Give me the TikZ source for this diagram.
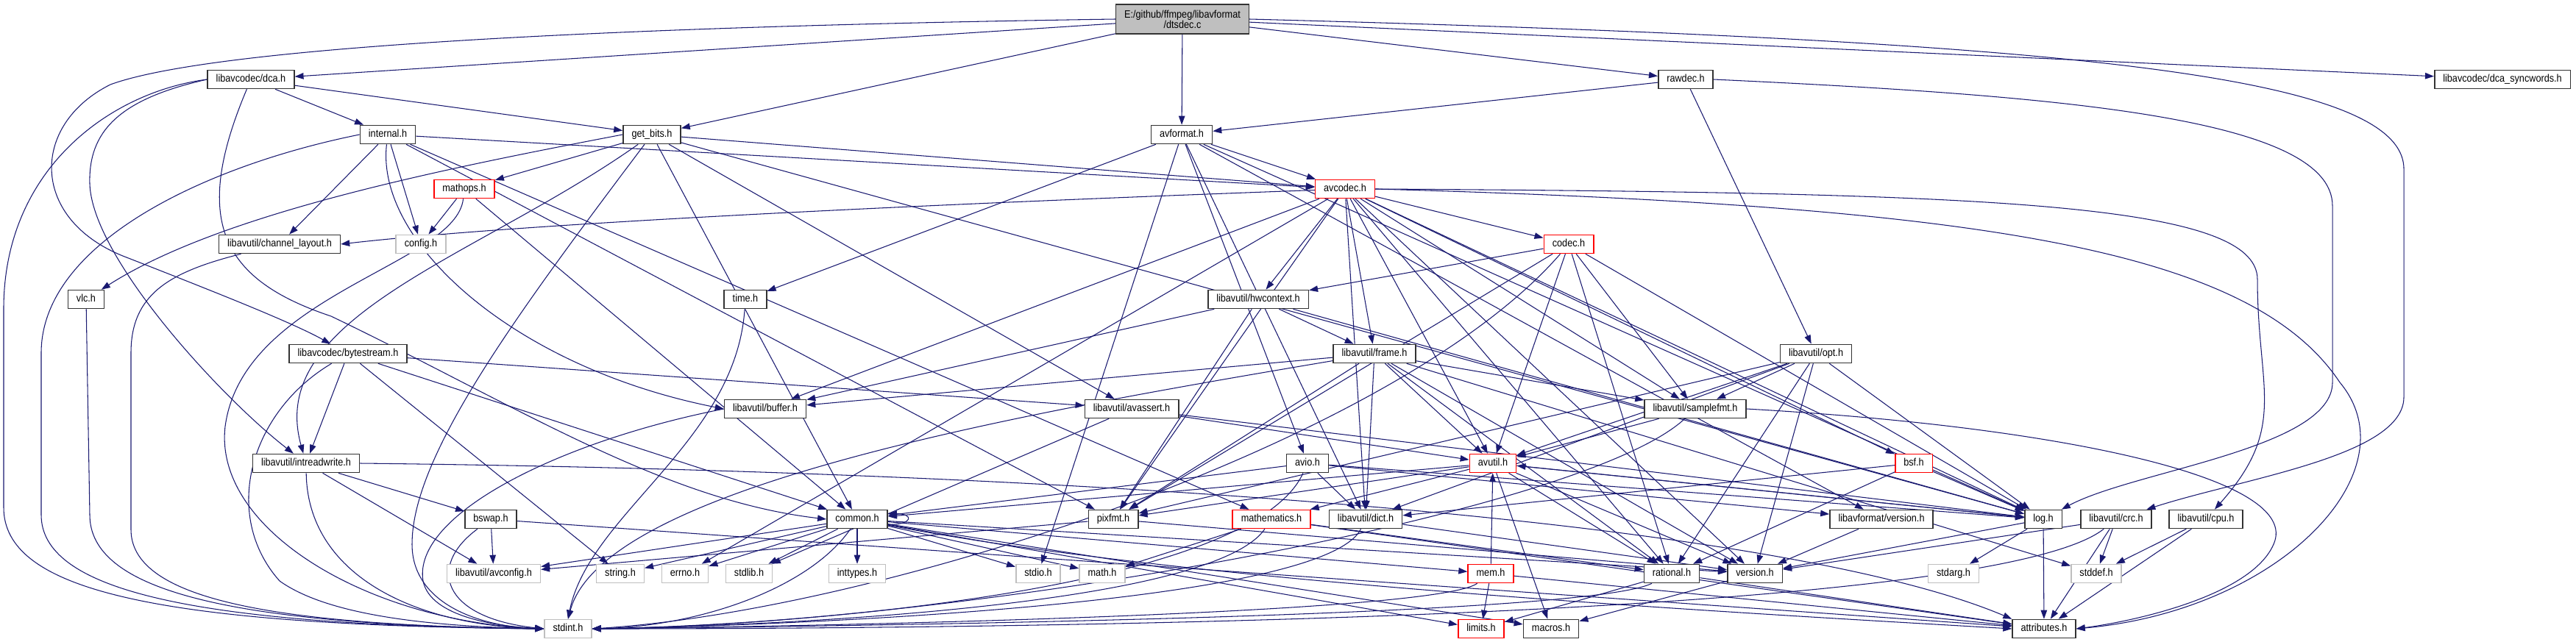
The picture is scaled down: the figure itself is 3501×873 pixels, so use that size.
\documentclass[tikz,border=0pt]{standalone}
\usepackage{fontspec}
\setmainfont{Liberation Sans}[FakeStretch=0.88]
\usetikzlibrary{arrows.meta}

\definecolor{edgeblue}{RGB}{25,25,112}
\definecolor{sysgray}{RGB}{191,191,191}

\pgfdeclarelayer{edges}
\pgfsetlayers{edges,main}

\tikzset{
  filebox/.style={draw=black!80, line width=0.45pt, fill=white, inner xsep=0.115cm, inner ysep=0pt, minimum height=0.25cm},
  hdr/.style={filebox, text height=0.105cm, text depth=0.03cm},
  redhdr/.style={hdr, draw=red},
  syshdr/.style={hdr, draw=sysgray},
  srcfile/.style={filebox, fill=sysgray, minimum height=0.40cm, align=center},
  incl/.style={draw=edgeblue, line width=0.3pt, -{Triangle[length=0.12cm, width=0.085cm]}}
}

\begin{document}
\begin{tikzpicture}[x=0.01cm, y=-0.01cm, font=\fontsize{4.1}{3.97}\selectfont]
        \useasboundingbox (0,0) rectangle (3501,873);

        % Source file
        \node[srcfile] (dtsdec) at (1607,26) {E:/github/ffmpeg/libavformat\\/dtsdec.c};

        % Its own includes
        \node[hdr] (dca) at (341,108) {libavcodec/dca.h};
        \node[hdr] (rawdec) at (2291,108) {rawdec.h};
        \node[hdr] (syncwords) at (3401,108) {libavcodec/dca\_syncwords.h};
        \node[hdr] (internal) at (527,183) {internal.h};
        \node[hdr] (getbits) at (886,183) {get\_bits.h};
        \node[hdr] (avformat) at (1606,183) {avformat.h};

        % Middle rows
        \node[redhdr] (mathops) at (631,257) {mathops.h};
        \node[redhdr] (avcodec) at (1828,257) {avcodec.h};
        \node[syshdr] (config) at (572,332) {config.h};
        \node[hdr] (chlayout) at (380,332) {libavutil/channel\_layout.h};
        \node[redhdr] (codec) at (2132,332) {codec.h};
        \node[hdr] (vlc) at (117,407) {vlc.h};
        \node[hdr] (time) at (1013,407) {time.h};
        \node[hdr] (hwctx) at (1710,407) {libavutil/hwcontext.h};
        \node[hdr] (bytestream) at (473,481) {libavcodec/bytestream.h};
        \node[hdr] (frame) at (1868,481) {libavutil/frame.h};
        \node[hdr] (opt) at (2468,481) {libavutil/opt.h};
        \node[hdr] (buffer) at (1040,556) {libavutil/buffer.h};
        \node[hdr] (avassert) at (1538,556) {libavutil/avassert.h};
        \node[hdr] (samplefmt) at (2304,556) {libavutil/samplefmt.h};
        \node[hdr] (intrw) at (416,630) {libavutil/intreadwrite.h};
        \node[hdr] (avio) at (1777,630) {avio.h};
        \node[redhdr] (avutil) at (2029,630) {avutil.h};
        \node[redhdr] (bsf) at (2601,630) {bsf.h};
        \node[hdr] (bswap) at (667,706) {bswap.h};
        \node[hdr] (common) at (1165,706) {common.h};
        \node[hdr] (pixfmt) at (1513,706) {pixfmt.h};
        \node[redhdr] (mathem) at (1728,706) {mathematics.h};
        \node[hdr] (dict) at (1856,706) {libavutil/dict.h};
        \node[hdr] (lavfver) at (2557,706) {libavformat/version.h};
        \node[hdr] (log) at (2777,706) {log.h};
        \node[hdr] (crc) at (2876,706) {libavutil/crc.h};
        \node[hdr] (cpu) at (2998,706) {libavutil/cpu.h};

        % Leaves
        \node[syshdr] (avconfig) at (671,780) {libavutil/avconfig.h};
        \node[syshdr] (string) at (843,780) {string.h};
        \node[syshdr] (errno) at (931,780) {errno.h};
        \node[syshdr] (stdlib) at (1018,780) {stdlib.h};
        \node[syshdr] (inttypes) at (1165,780) {inttypes.h};
        \node[syshdr] (stdio) at (1411,780) {stdio.h};
        \node[syshdr] (math) at (1498,780) {math.h};
        \node[redhdr] (mem) at (2026,780) {mem.h};
        \node[hdr] (rational) at (2272,780) {rational.h};
        \node[hdr] (version) at (2385,780) {version.h};
        \node[syshdr] (stdarg) at (2655,780) {stdarg.h};
        \node[syshdr] (stddef) at (2849,780) {stddef.h};
        \node[syshdr] (stdint) at (772,855) {stdint.h};
        \node[redhdr] (limits) at (2013,855) {limits.h};
        \node[hdr] (macros) at (2108,855) {macros.h};
        \node[hdr] (attrib) at (2778,855) {attributes.h};

        \begin{pgfonlayer}{edges}
        % dtsdec.c
        \draw[incl] (dtsdec) -- (dca);
        \draw[incl] (dtsdec) -- (getbits);
        \draw[incl] (dtsdec) -- (avformat);
        \draw[incl] (dtsdec) -- (rawdec);
        \draw[incl] (dtsdec) -- (syncwords);
        \draw[incl] (dtsdec.west) .. controls (900,35) and (300,60) .. (150,115) .. controls (40,170) and (40,300) .. (172,350) .. controls (300,400) and (400,440) .. (bytestream);
        \draw[incl] (dtsdec.east) .. controls (2800,55) and (3267,100) .. (3267,230) -- (3267,540) .. controls (3267,620) and (3050,650) .. (crc);

        % dca.h, rawdec.h
        \draw[incl] (dca) -- (internal);
        \draw[incl] (dca) -- (getbits);
        \draw[incl] (dca.west) .. controls (150,125) and (5,230) .. (5,420) -- (5,690) .. controls (5,800) and (200,850) .. (stdint.west);
        \draw[incl] (dca.west) .. controls (160,135) and (120,180) .. (122,250) .. controls (125,350) and (300,540) .. (intrw);
        \draw[incl] (dca) .. controls (260,300) and (300,380) .. (450,430) .. controls (700,550) and (900,680) .. (common.west);
        \draw[incl] (rawdec) -- (avformat);
        \draw[incl] (rawdec) -- (opt);
        \draw[incl] (rawdec.east) .. controls (2800,130) and (3170,160) .. (3170,280) -- (3170,520) .. controls (3170,610) and (2900,640) .. (log);

        % internal.h
        \draw[incl] (internal) -- (chlayout);
        \draw[incl] (internal) -- (config);
        \draw[incl] (internal) -- (avcodec);
        \draw[incl] (internal) -- (pixfmt);
        \draw[incl] (internal) -- (mathem);
        \draw[incl] (internal) .. controls (510,330) and (700,500) .. (buffer.west);
        \draw[incl] (internal.west) .. controls (280,225) and (56,330) .. (56,480) -- (56,700) .. controls (56,800) and (250,850) .. (stdint.west);

        % get_bits.h
        \draw[incl] (getbits) -- (mathops);
        \draw[incl] (getbits) -- (common);
        \draw[incl] (getbits) -- (avassert);
        \draw[incl] (getbits) -- (avcodec);
        \draw[incl] (getbits) -- (log);
        \draw[incl] (getbits.west) .. controls (600,230) and (300,290) .. (vlc);
        \draw[incl] (getbits) .. controls (650,350) and (360,430) .. (intrw);
        \draw[incl] (getbits) .. controls (700,430) and (560,620) .. (560,740) .. controls (560,820) and (650,852) .. (stdint.west);

        % avformat.h
        \draw[incl] (avformat) -- (time);
        \draw[incl] (avformat) -- (stdio);
        \draw[incl] (avformat) -- (avcodec);
        \draw[incl] (avformat) -- (dict);
        \draw[incl] (avformat) -- (log);
        \draw[incl] (avformat) -- (avio);
        \draw[incl] (avformat) -- (lavfver);

        % avcodec.h
        \draw[incl] (avcodec) -- (errno);
        \draw[incl] (avcodec) -- (samplefmt);
        \draw[incl] (avcodec) -- (avutil);
        \draw[incl] (avcodec) -- (buffer);
        \draw[incl] (avcodec) .. controls (1200,280) and (700,305) .. (chlayout.east);
        \draw[incl] (avcodec) -- (dict);
        \draw[incl] (avcodec) -- (frame);
        \draw[incl] (avcodec) -- (hwctx);
        \draw[incl] (avcodec) -- (log);
        \draw[incl] (avcodec) -- (pixfmt);
        \draw[incl] (avcodec) -- (rational);
        \draw[incl] (avcodec) -- (bsf);
        \draw[incl] (avcodec) -- (codec);
        \draw[incl] (avcodec) -- (version);
        \draw[incl] (avcodec.east) .. controls (2700,262) and (3068,275) .. (3068,380) .. controls (3068,530) and (3110,580) .. (cpu);
        \draw[incl] (avcodec.east) .. controls (2700,280) and (3060,340) .. (3180,520) .. controls (3280,640) and (3100,830) .. (attrib.east);

        % mathops.h, codec.h, hwcontext.h
        \draw[incl] (mathops) -- (config);
        \draw[incl] (mathops) -- (common);
        \draw[incl] (mathops) .. controls (620,360) and (330,400) .. (306,580) .. controls (290,720) and (500,845) .. (stdint.west);
        \draw[incl] (codec) -- (avutil);
        \draw[incl] (codec) -- (hwctx);
        \draw[incl] (codec) -- (log);
        \draw[incl] (codec) -- (pixfmt);
        \draw[incl] (codec) -- (rational);
        \draw[incl] (codec) -- (samplefmt);
        \draw[incl] (codec) .. controls (1900,600) and (1200,830) .. (stdint.east);
        \draw[incl] (hwctx) -- (buffer);
        \draw[incl] (hwctx) -- (frame);
        \draw[incl] (hwctx) -- (log);
        \draw[incl] (hwctx) -- (pixfmt);

        % single includes to stdint.h
        \draw[incl] (chlayout) .. controls (230,370) and (178,400) .. (178,480) -- (178,720) .. controls (178,810) and (350,850) .. (stdint.west);
        \draw[incl] (vlc) -- (122,700) .. controls (122,800) and (300,850) .. (stdint.west);
        \draw[incl] (time) .. controls (1000,600) and (800,700) .. (stdint.north);
        \draw[incl] (buffer.west) .. controls (760,600) and (560,700) .. (575,790) .. controls (585,840) and (680,852) .. (stdint.west);

        % bytestream.h, frame.h, opt.h
        \draw[incl] (bytestream) -- (intrw);
        \draw[incl] (bytestream) -- (string);
        \draw[incl] (bytestream) -- (avassert);
        \draw[incl] (bytestream) -- (common);
        \draw[incl] (bytestream) .. controls (340,560) and (300,700) .. (380,790) .. controls (450,840) and (600,852) .. (stdint.west);
        \draw[incl] (frame) -- (stddef);
        \draw[incl] (frame) -- (avutil);
        \draw[incl] (frame) -- (buffer);
        \draw[incl] (frame) -- (dict);
        \draw[incl] (frame) -- (rational);
        \draw[incl] (frame) -- (samplefmt);
        \draw[incl] (frame) -- (pixfmt);
        \draw[incl] (frame) -- (version);
        \draw[incl] (frame) .. controls (1400,560) and (820,660) .. (stdint.north);
        \draw[incl] (opt) -- (rational);
        \draw[incl] (opt) -- (avutil);
        \draw[incl] (opt) -- (dict);
        \draw[incl] (opt) -- (log);
        \draw[incl] (opt) -- (pixfmt);
        \draw[incl] (opt) -- (samplefmt);
        \draw[incl] (opt) -- (version);

        % avassert.h, samplefmt.h, intreadwrite.h, avio.h
        \draw[incl] (avassert) -- (stdlib);
        \draw[incl] (avassert) -- (avutil);
        \draw[incl] (avassert) -- (log);
        \draw[incl] (samplefmt) -- (avutil);
        \draw[incl] (samplefmt) .. controls (2150,700) and (1300,850) .. (stdint.east);
        \draw[incl] (samplefmt.east) .. controls (2800,580) and (3130,650) .. (3090,740) .. controls (3060,810) and (2900,845) .. (attrib.east);
        \draw[incl] (intrw) -- (avconfig);
        \draw[incl] (intrw) -- (bswap);
        \draw[incl] (intrw) .. controls (418,780) and (560,850) .. (stdint.west);
        \draw[incl] (intrw.east) .. controls (1400,640) and (2400,700) .. (attrib.north west);
        \draw[incl] (avio) -- (common);
        \draw[incl] (avio) -- (dict);
        \draw[incl] (avio) -- (log);
        \draw[incl] (avio) -- (lavfver);
        \draw[incl] (avio) .. controls (1700,800) and (1100,850) .. (stdint.east);

        % avutil.h, bsf.h, bswap.h
        \draw[incl] (avutil) -- (common);
        \draw[incl] (avutil) -- (rational);
        \draw[incl] (avutil) -- (version);
        \draw[incl] (avutil) -- (macros);
        \draw[incl] (avutil) -- (mathem);
        \draw[incl] (avutil) -- (log);
        \draw[incl] (avutil) -- (pixfmt);
        \draw[incl] (bsf) -- (dict);
        \draw[incl] (bsf) -- (log);
        \draw[incl] (bsf) -- (rational);
        \draw[incl] (bswap) -- (avconfig);
        \draw[incl] (bswap) -- (attrib);
        \draw[incl] (bswap) .. controls (580,770) and (600,840) .. (stdint.west);

        % common.h
        \draw[incl] (common) -- (errno);
        \draw[incl] (common) -- (inttypes);
        \draw[incl] (common) -- (limits);
        \draw[incl] (common) -- (math);
        \draw[incl] (common) -- (stdio);
        \draw[incl] (common) -- (stdlib);
        \draw[incl] (common) -- (string);
        \draw[incl] (common) -- (macros);
        \draw[incl] (common) -- (version);
        \draw[incl] (common) -- (avconfig);
        \draw[incl] (common) -- (mem);
        \draw[incl] (common) .. controls (1600,790) and (2300,830) .. (attrib.west);
        \draw[incl] (common) .. controls (1100,800) and (950,852) .. (stdint.east);
        \draw[incl] (common.-10) .. controls +(35,0) and +(35,0) .. (common.10);

        % pixfmt.h, mathematics.h, dict.h, version headers
        \draw[incl] (pixfmt) -- (avconfig);
        \draw[incl] (pixfmt) -- (version);
        \draw[incl] (mathem) -- (math);
        \draw[incl] (mathem) -- (attrib);
        \draw[incl] (mathem) -- (rational);
        \draw[incl] (mathem) .. controls (1650,820) and (1100,850) .. (stdint.east);
        \draw[incl] (dict) -- (version);
        \draw[incl] (dict) .. controls (1800,820) and (1100,850) .. (stdint.east);
        \draw[incl] (lavfver) -- (version);
        \draw[incl] (version) -- (macros);

        % log.h, crc.h, cpu.h
        \draw[incl] (log) -- (stdarg);
        \draw[incl] (log) -- (avutil);
        \draw[incl] (log) -- (attrib);
        \draw[incl] (log) -- (version);
        \draw[incl] (crc) -- (stddef);
        \draw[incl] (crc) -- (attrib);
        \draw[incl] (crc) -- (version);
        \draw[incl] (crc) .. controls (2700,845) and (1300,855) .. (stdint.east);
        \draw[incl] (cpu) -- (stddef);
        \draw[incl] (cpu) -- (attrib);

        % mem.h, rational.h
        \draw[incl] (mem) -- (limits);
        \draw[incl] (mem) -- (attrib);
        \draw[incl] (mem) -- (avutil);
        \draw[incl] (mem) .. controls (1950,835) and (1100,852) .. (stdint.east);
        \draw[incl] (rational) -- (limits);
        \draw[incl] (rational) -- (attrib);
        \draw[incl] (rational) .. controls (2150,840) and (1100,852) .. (stdint.east);
        \end{pgfonlayer}
\end{tikzpicture}
\end{document}
